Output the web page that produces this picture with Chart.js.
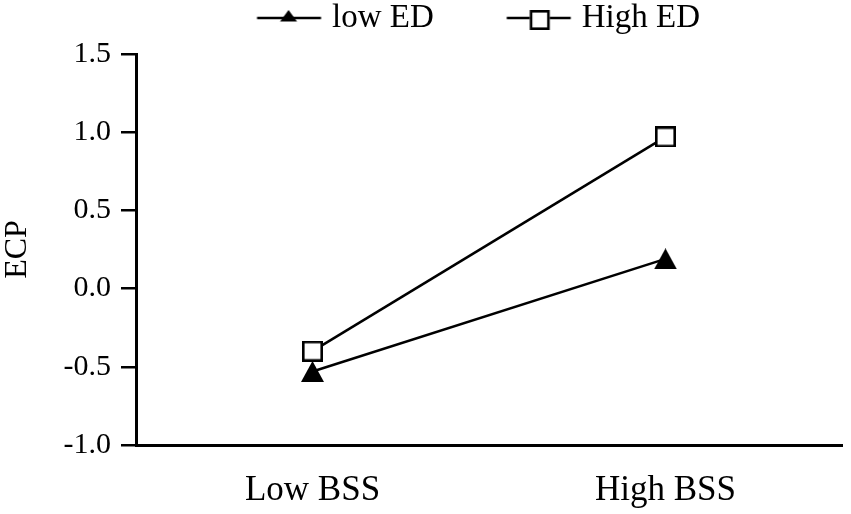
<!DOCTYPE html>
<html><head><meta charset="utf-8">
<script src="https://cdn.jsdelivr.net/npm/chart.js@4"></script>
<style>html,body{margin:0;padding:0;background:#fff}#wrap{width:851px;height:514px;position:relative;background:#fff}</style>
</head><body><div id="wrap"><canvas id="c"></canvas></div>
<script>
const categories = ['Low BSS', 'High BSS'];
const seriesNames = ['low ED', 'High ED'];
const lowED = [-0.53, 0.19];
const highED = [-0.40, 0.97];
const yTickValues = [-1.0, -0.5, 0.0, 0.5, 1.0, 1.5];
const yAxisTitle = 'ECP';

function makeCanvas(w, h) { const c = document.createElement('canvas'); c.width = w; c.height = h; return c; }
function triangleMarker() {
  const c = makeCanvas(23, 21); const g = c.getContext('2d');
  g.fillStyle = '#000'; g.beginPath(); g.moveTo(11.5, 0); g.lineTo(23, 21); g.lineTo(0, 21); g.closePath(); g.fill();
  return c;
}
function squareMarker() {
  const c = makeCanvas(21, 21); const g = c.getContext('2d');
  g.fillStyle = '#fff'; g.fillRect(0, 0, 21, 21);
  g.strokeStyle = '#000'; g.lineWidth = 2.6; g.strokeRect(1.3, 1.3, 18.4, 18.4);
  return c;
}
function legendSymbol(kind) {
  const c = makeCanvas(140, 30); const g = c.getContext('2d');
  g.strokeStyle = '#000'; g.lineWidth = 2.5;
  g.beginPath(); g.moveTo(67.5, 15); g.lineTo(131.5, 15); g.stroke();
  if (kind === 'tri') {
    g.fillStyle = '#000'; g.beginPath(); g.moveTo(99, 7); g.lineTo(107.5, 18.5); g.lineTo(90.5, 18.5); g.closePath(); g.fill();
  } else {
    g.fillStyle = '#fff'; g.fillRect(90.5, 7, 20, 20);
    g.lineWidth = 2.6; g.strokeRect(91.8, 8.3, 17.4, 17.4);
  }
  return c;
}
const pointMarkers = [triangleMarker(), squareMarker()];
const legendSymbols = [legendSymbol('tri'), legendSymbol('sq')];
const serif = 'Liberation Serif';

new Chart(document.getElementById('c'), {
  type: 'line',
  data: {
    labels: categories,
    datasets: [
      { label: seriesNames[0], data: lowED, borderColor: '#000', backgroundColor: '#000', borderWidth: 2.5, pointStyle: pointMarkers[0], fill: false, tension: 0 },
      { label: seriesNames[1], data: highED, borderColor: '#000', backgroundColor: '#fff', borderWidth: 2.5, pointStyle: pointMarkers[1], fill: false, tension: 0 }
    ]
  },
  options: {
    responsive: true, maintainAspectRatio: false, animation: false, events: [],
    layout: { padding: { top: -18, left: 61.5, right: 9, bottom: 0 } },
    scales: {
      x: {
        type: 'category', offset: true,
        grid: { display: false, drawTicks: false },
        border: { display: true, color: '#000', width: 3 },
        ticks: { color: '#000', font: { family: serif, size: 35 }, padding: 25, maxRotation: 0, autoSkip: false },
        afterFit(s) { s.height = 69; }
      },
      y: {
        min: -1, max: 1.5,
        afterBuildTicks(s) { s.ticks = yTickValues.map(v => ({ value: v })); },
        grid: { display: true, drawOnChartArea: false, drawTicks: true, tickLength: 15, color: '#000', lineWidth: 2.5 },
        border: { display: true, color: '#000', width: 3 },
        ticks: { color: '#000', font: { family: serif, size: 30 }, padding: 10, callback: v => Number(v).toFixed(1) },
        title: { display: true, text: yAxisTitle, color: '#000', font: { family: serif, size: 32 }, padding: { top: -63.2, bottom: 0 } },
        afterFit(s) { s.width = 74.5; }
      }
    },
    plugins: {
      tooltip: { enabled: false },
      title: { display: true, text: '', weight: 500, padding: 0, font: { size: 10, lineHeight: 0.95 } },
      legend: {
        display: true, position: 'top', align: 'center', fullSize: true,
        labels: {
          usePointStyle: true, pointStyleWidth: 112, padding: 19.5, color: '#000',
          font: { family: serif, size: 33 },
          generateLabels(chart) {
            const items = Chart.defaults.plugins.legend.labels.generateLabels(chart);
            items.forEach((it, i) => { it.pointStyle = legendSymbols[i]; });
            return items;
          }
        }
      }
    }
  }
});
</script></body></html>
